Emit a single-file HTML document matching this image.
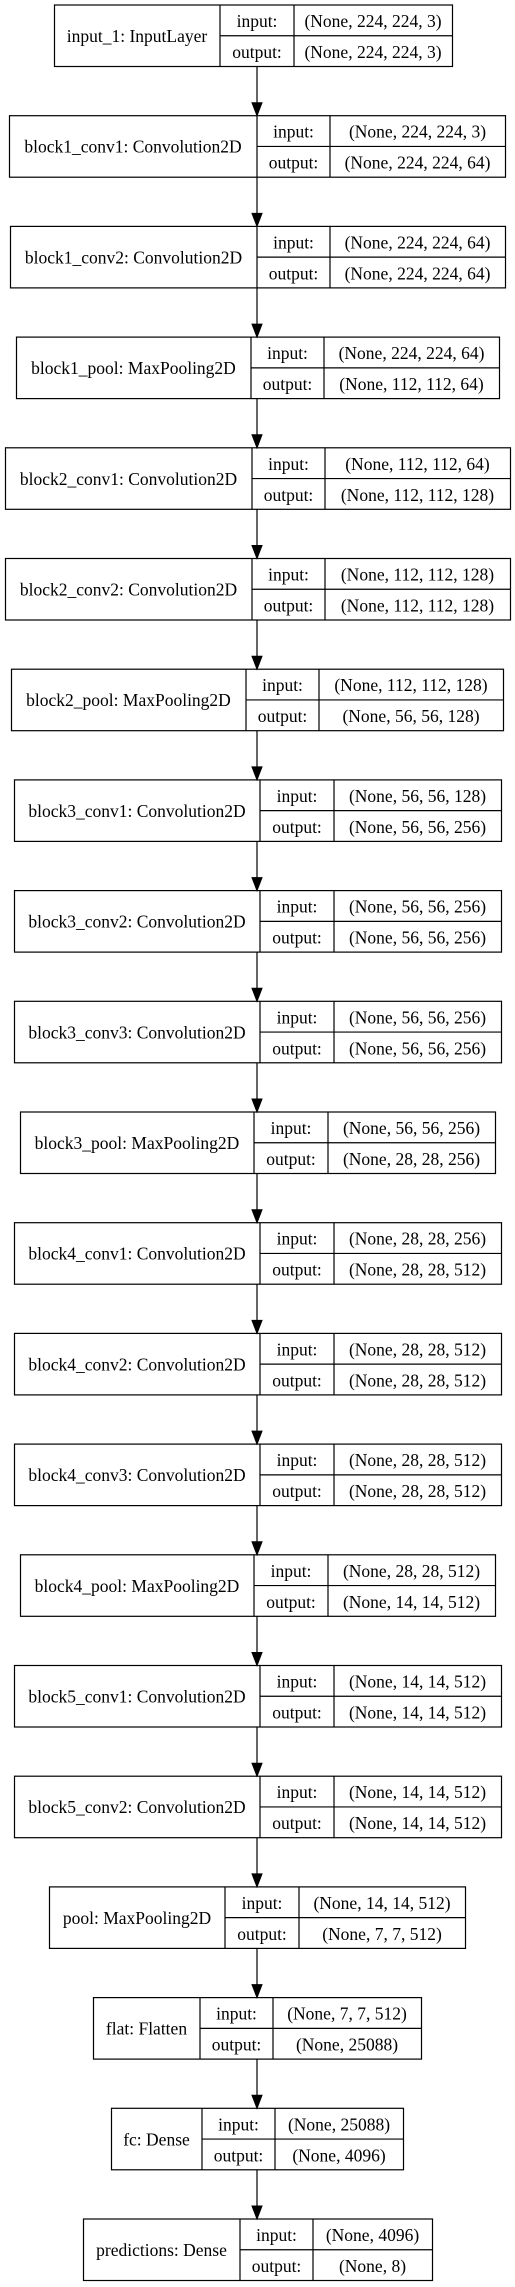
<!DOCTYPE html>
<html><head><meta charset="utf-8"><style>html,body{margin:0;padding:0;background:#fff}svg{display:block}text{font-family:"Liberation Serif",serif;font-size:17.5px;fill:#000}</style></head><body>
<svg id="s" width="515" height="2287" xmlns="http://www.w3.org/2000/svg">
<g stroke="#000" stroke-width="1.2" fill="none" id="g"></g>
</svg>
<script>
var nodes=[
["input_1: InputLayer",54,220,294,452,"(None, 224, 224, 3)","(None, 224, 224, 3)"],
["block1_conv1: Convolution2D",9,257,330,505,"(None, 224, 224, 3)","(None, 224, 224, 64)"],
["block1_conv2: Convolution2D",10,257,330,505,"(None, 224, 224, 64)","(None, 224, 224, 64)"],
["block1_pool: MaxPooling2D",16,251,324,499,"(None, 224, 224, 64)","(None, 112, 112, 64)"],
["block2_conv1: Convolution2D",5,252,325,510,"(None, 112, 112, 64)","(None, 112, 112, 128)"],
["block2_conv2: Convolution2D",5,252,325,510,"(None, 112, 112, 128)","(None, 112, 112, 128)"],
["block2_pool: MaxPooling2D",11,246,319,503,"(None, 112, 112, 128)","(None, 56, 56, 128)"],
["block3_conv1: Convolution2D",14,260,334,501,"(None, 56, 56, 128)","(None, 56, 56, 256)"],
["block3_conv2: Convolution2D",14,260,334,501,"(None, 56, 56, 256)","(None, 56, 56, 256)"],
["block3_conv3: Convolution2D",14,260,334,501,"(None, 56, 56, 256)","(None, 56, 56, 256)"],
["block3_pool: MaxPooling2D",20,254,328,495,"(None, 56, 56, 256)","(None, 28, 28, 256)"],
["block4_conv1: Convolution2D",14,260,334,501,"(None, 28, 28, 256)","(None, 28, 28, 512)"],
["block4_conv2: Convolution2D",14,260,334,501,"(None, 28, 28, 512)","(None, 28, 28, 512)"],
["block4_conv3: Convolution2D",14,260,334,501,"(None, 28, 28, 512)","(None, 28, 28, 512)"],
["block4_pool: MaxPooling2D",20,254,328,495,"(None, 28, 28, 512)","(None, 14, 14, 512)"],
["block5_conv1: Convolution2D",14,260,334,501,"(None, 14, 14, 512)","(None, 14, 14, 512)"],
["block5_conv2: Convolution2D",14,260,334,501,"(None, 14, 14, 512)","(None, 14, 14, 512)"],
["pool: MaxPooling2D",49,225,299,465,"(None, 14, 14, 512)","(None, 7, 7, 512)"],
["flat: Flatten",93,200,273,421,"(None, 7, 7, 512)","(None, 25088)"],
["fc: Dense",111,202,275,403,"(None, 25088)","(None, 4096)"],
["predictions: Dense",83,240,313,432,"(None, 4096)","(None, 8)"]];
var h='',t='';
nodes.forEach(function(n,i){
 var y=5+i*110.7,H=61.5,m=y+H/2;
 h+='<rect x="'+n[1]+'.5" y="'+y+'" width="'+(n[4]-n[1])+'" height="'+H+'"/>';
 h+='<line x1="'+n[2]+'" y1="'+y+'" x2="'+n[2]+'" y2="'+(y+H)+'"/>';
 h+='<line x1="'+n[3]+'" y1="'+y+'" x2="'+n[3]+'" y2="'+(y+H)+'"/>';
 h+='<line x1="'+n[2]+'" y1="'+m+'" x2="'+n[4]+'" y2="'+m+'"/>';
 t+='<text x="'+(n[1]+n[2])/2+'" y="'+(y+37)+'" text-anchor="middle">'+n[0]+'</text>';
 t+='<text x="'+(n[2]+n[3])/2+'" y="'+(y+22)+'" text-anchor="middle">input:</text>';
 t+='<text x="'+(n[2]+n[3])/2+'" y="'+(y+53)+'" text-anchor="middle">output:</text>';
 t+='<text x="'+(n[3]+n[4])/2+'" y="'+(y+22)+'" text-anchor="middle">'+n[5]+'</text>';
 t+='<text x="'+(n[3]+n[4])/2+'" y="'+(y+53)+'" text-anchor="middle">'+n[6]+'</text>';
 if(i<nodes.length-1){var b=y+H,nt=5+(i+1)*110.7;
  h+='<line x1="257" y1="'+b+'" x2="257" y2="'+(nt-12)+'"/>';
  t+='<polygon points="252,'+(nt-13)+' 262,'+(nt-13)+' 257,'+nt+'" fill="#000" stroke="#000"/>';}
});
document.getElementById('g').innerHTML=h;
document.getElementById('s').insertAdjacentHTML('beforeend',t);
</script>
</body></html>
